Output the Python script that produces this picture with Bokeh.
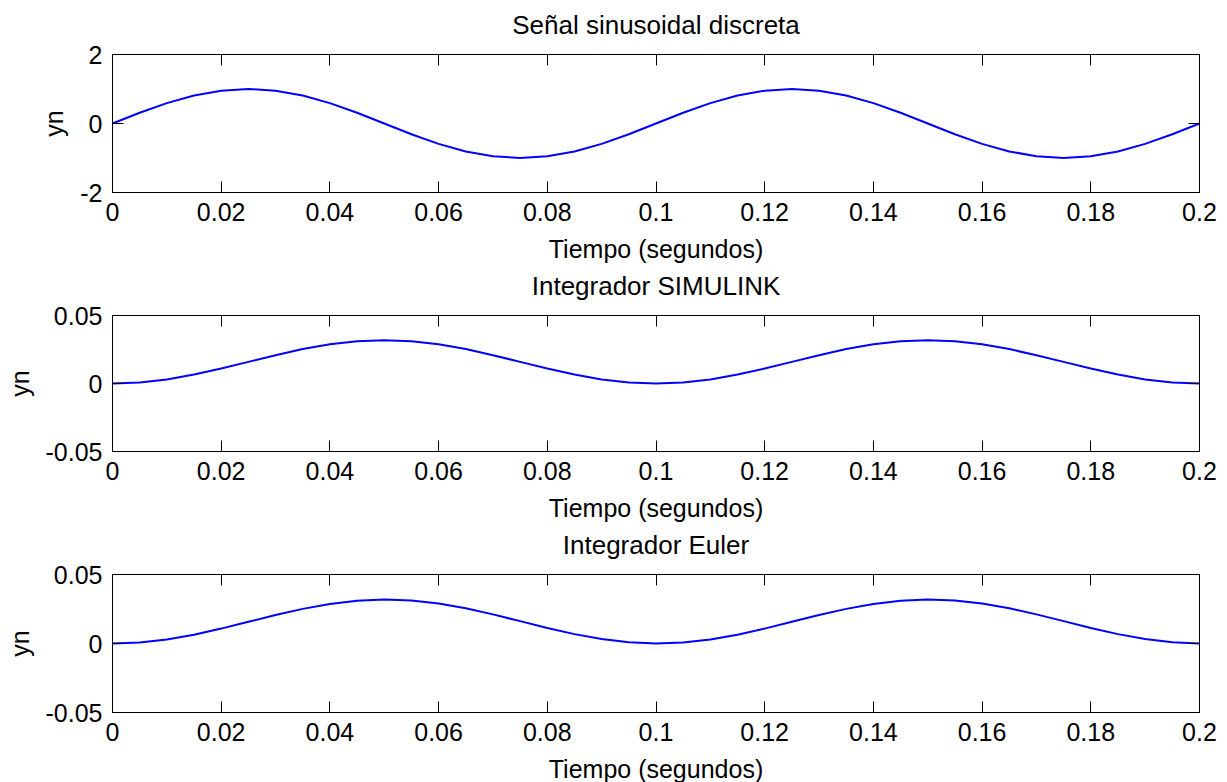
from bokeh.plotting import figure
from bokeh.models import Range1d, FixedTicker, PrintfTickFormatter, LinearAxis, CustomJSTickFormatter
from bokeh.layouts import column
from bokeh.embed import file_html
from bokeh.resources import INLINE

# ---- data ----
tiempo = [0.000, 0.005, 0.010, 0.015, 0.020, 0.025, 0.030, 0.035, 0.040, 0.045,
          0.050, 0.055, 0.060, 0.065, 0.070, 0.075, 0.080, 0.085, 0.090, 0.095,
          0.100, 0.105, 0.110, 0.115, 0.120, 0.125, 0.130, 0.135, 0.140, 0.145,
          0.150, 0.155, 0.160, 0.165, 0.170, 0.175, 0.180, 0.185, 0.190, 0.195,
          0.200]

senal = [0.00, 0.31, 0.59, 0.81, 0.95, 1.00, 0.95, 0.81, 0.59, 0.31,
         0.00, -0.31, -0.59, -0.81, -0.95, -1.00, -0.95, -0.81, -0.59, -0.31,
         0.00, 0.31, 0.59, 0.81, 0.95, 1.00, 0.95, 0.81, 0.59, 0.31,
         0.00, -0.31, -0.59, -0.81, -0.95, -1.00, -0.95, -0.81, -0.59, -0.31,
         0.00]

integrador_simulink = [0.0000, 0.0008, 0.0030, 0.0066, 0.0110, 0.0159, 0.0208, 0.0253, 0.0288, 0.0311,
                       0.0318, 0.0311, 0.0288, 0.0253, 0.0208, 0.0159, 0.0110, 0.0066, 0.0030, 0.0008,
                       0.0000, 0.0008, 0.0030, 0.0066, 0.0110, 0.0159, 0.0208, 0.0253, 0.0288, 0.0311,
                       0.0318, 0.0311, 0.0288, 0.0253, 0.0208, 0.0159, 0.0110, 0.0066, 0.0030, 0.0008,
                       0.0000]

integrador_euler = [0.0000, 0.0007, 0.0029, 0.0064, 0.0108, 0.0157, 0.0206, 0.0251, 0.0287, 0.0310,
                    0.0318, 0.0312, 0.0290, 0.0255, 0.0211, 0.0162, 0.0112, 0.0068, 0.0032, 0.0009,
                    0.0000, 0.0007, 0.0029, 0.0064, 0.0108, 0.0157, 0.0206, 0.0251, 0.0287, 0.0310,
                    0.0318, 0.0312, 0.0290, 0.0255, 0.0211, 0.0162, 0.0112, 0.0068, 0.0032, 0.0009,
                    0.0000]

x_ticks = [0, 0.02, 0.04, 0.06, 0.08, 0.1, 0.12, 0.14, 0.16, 0.18, 0.2]
y_ticks_senal = [-2, 0, 2]
y_ticks_int = [-0.05, 0, 0.05]
titulos = ["Señal sinusoidal discreta", "Integrador SIMULINK", "Integrador Euler"]
x_label = "Tiempo (segundos)"
y_label = "yn"

FONT = "Liberation Sans"
FS = "25px"
TFS = "26px"


def panel(titulo, serie, y_lim, y_ticks, top_border, fh):
    p = figure(frame_width=1087, frame_height=fh,
               x_range=Range1d(0, 0.2), y_range=Range1d(*y_lim),
               output_backend="svg", toolbar_location=None,
               min_border_left=112, min_border_right=24,
               min_border_top=top_border, min_border_bottom=75)

    p.xgrid.visible = False
    p.ygrid.visible = False
    p.outline_line_color = "black"
    p.background_fill_color = "white"
    p.border_fill_color = "white"

    p.line(tiempo, serie, line_color="#0000FF", line_width=2)

    # main axes
    p.xaxis.ticker = FixedTicker(ticks=x_ticks)
    p.yaxis.ticker = FixedTicker(ticks=y_ticks)
    p.xaxis.formatter = PrintfTickFormatter(format="%g")
    p.yaxis.formatter = PrintfTickFormatter(format="%g")
    p.xaxis.axis_label = x_label
    p.yaxis.axis_label = y_label
    for ax in (p.xaxis[0], p.yaxis[0]):
        ax.major_tick_in = 11
        ax.major_tick_out = 0
        ax.minor_tick_line_color = None
        ax.axis_line_color = "black"
        ax.major_tick_line_color = "black"
        ax.major_label_text_font = FONT
        ax.major_label_text_font_size = FS
        ax.major_label_text_color = "black"
        ax.axis_label_text_font = FONT
        ax.axis_label_text_font_size = FS
        ax.axis_label_text_font_style = "normal"
        ax.axis_label_text_color = "black"
    p.xaxis.major_label_standoff = 10
    p.xaxis.axis_label_standoff = 11
    p.yaxis.major_label_standoff = 10
    p.yaxis.axis_label_standoff = 9

    # box ticks on top (carrying the panel title) and right
    top = LinearAxis(ticker=FixedTicker(ticks=x_ticks),
                     formatter=CustomJSTickFormatter(code="return ''"),
                     major_tick_in=11, major_tick_out=0,
                     minor_tick_line_color=None,
                     major_label_standoff=0,
                     major_label_text_font_size="1px",
                     axis_line_color="black",
                     major_tick_line_color="black",
                     axis_label=titulo,
                     axis_label_text_font=FONT,
                     axis_label_text_font_size=TFS,
                     axis_label_text_font_style="normal",
                     axis_label_text_color="black",
                     axis_label_standoff=15)
    p.add_layout(top, "above")
    right = LinearAxis(ticker=FixedTicker(ticks=y_ticks),
                       formatter=CustomJSTickFormatter(code="return ''"),
                       major_tick_in=11, major_tick_out=0,
                       minor_tick_line_color=None,
                       major_label_standoff=0,
                       major_label_text_font_size="1px",
                       axis_line_color="black",
                       major_tick_line_color="black")
    p.add_layout(right, "right")
    return p


f1 = panel(titulos[0], senal, (-2, 2), y_ticks_senal, 54, 138)
f2 = panel(titulos[1], integrador_simulink, (-0.05, 0.05), y_ticks_int, 48, 136)
f3 = panel(titulos[2], integrador_euler, (-0.05, 0.05), y_ticks_int, 47, 138)

layout = column(f1, f2, f3)
open("out.html", "w").write(file_html(layout, INLINE))
